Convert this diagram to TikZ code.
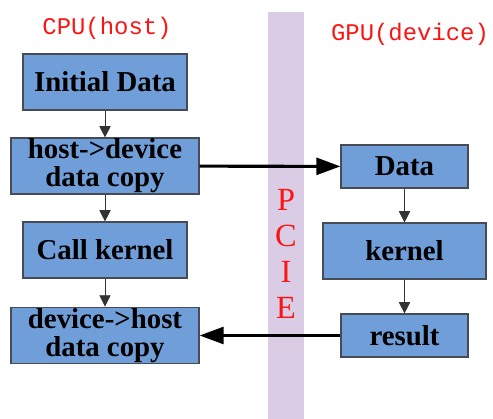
\documentclass[tikz,border=0pt]{standalone}
\usepackage{fontspec}
\setmainfont{Liberation Serif}
\newfontfamily\labelfont{Liberation Mono}
\usetikzlibrary{arrows.meta,positioning}
\definecolor{boxblue}{RGB}{112,158,216}
\definecolor{boxline}{RGB}{70,75,85}
\definecolor{pciebar}{RGB}{218,204,228}
\definecolor{pciered}{RGB}{250,20,20}

\tikzset{
  block/.style={draw=boxline, line width=0.8pt, fill=boxblue, align=center,
    font=\bfseries\fontsize{20.5}{20}\selectfont, inner sep=0pt},
  small arrow/.style={-{Triangle[length=0.28cm,width=0.28cm]}, line width=0.6pt, draw=black!80},
  big arrow/.style={-{Triangle[length=0.6cm,width=0.42cm]}, line width=2.2pt},
  side label/.style={text=pciered, font=\labelfont\fontsize{17}{19}\selectfont}
}

\begin{document}
\begin{tikzpicture}[x=0.025cm,y=-0.025cm]
  \useasboundingbox (0,0) rectangle (493,419);

  % PCIE bus
  \fill[pciebar] (268,12) rectangle (304,419);
  \foreach \ch [count=\i] in {P,C,I,E}
    \node[text=pciered, font=\fontsize{23}{25}\selectfont] (pcie\i) at (286,164+36*\i) {\ch};

  % Headings
  \node[side label] (cpu) at (107,28) {CPU(host)};
  \node[side label] (gpu) at (410,34) {GPU(device)};

  % Host side
  \node[block, minimum width=4.1cm, minimum height=1.4cm] (init) at (105,82) {Initial Data};
  \node[block, minimum width=4.7cm, minimum height=1.4cm] (htod) at (105,166) {host->device\\data copy};
  \node[block, minimum width=4.1cm, minimum height=1.4cm] (call) at (105,250) {Call kernel};
  \node[block, minimum width=4.7cm, minimum height=1.42cm] (dtoh) at (105,335.5) {device->host\\data copy};

  % Device side
  \node[block, minimum width=3.175cm, minimum height=1.075cm] (data) at (404.5,166.5) {Data};
  \node[block, minimum width=4.075cm, minimum height=1.4cm] (kern) at (404.5,251) {kernel};
  \node[block, minimum width=3.175cm, minimum height=1.075cm] (res) at (404.5,335.5) {result};

  % Arrows
  \draw[small arrow] (init) -- (htod);
  \draw[small arrow] (htod) -- (call);
  \draw[small arrow] (call) -- (dtoh);
  \draw[small arrow] (data) -- (kern);
  \draw[small arrow] (kern) -- (res);
  \draw[big arrow] (htod) -- (data);
  \draw[big arrow] (res) -- (dtoh);
\end{tikzpicture}
\end{document}
